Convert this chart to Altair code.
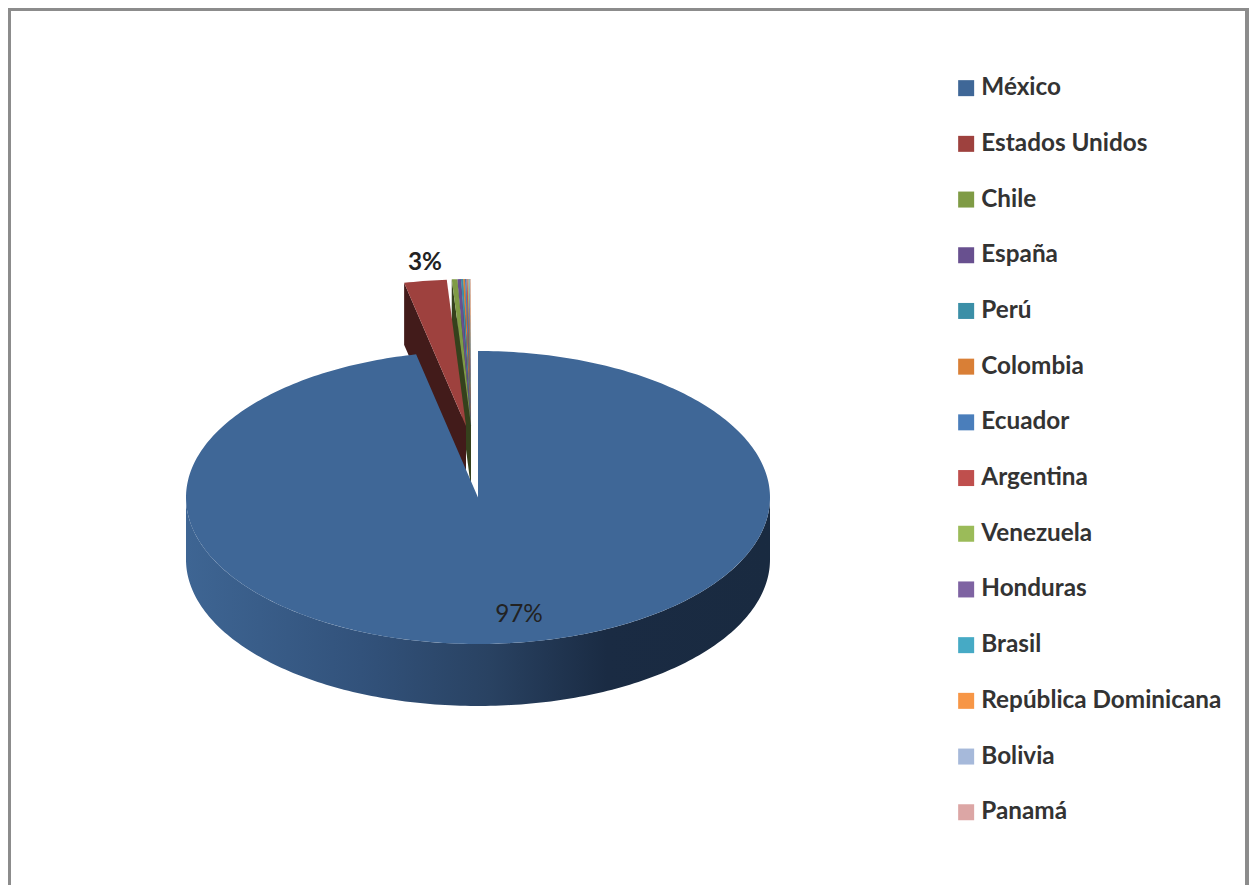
import math
import altair as alt

paises = ["México", "Estados Unidos", "Chile", "España", "Perú", "Colombia", "Ecuador",
          "Argentina", "Venezuela", "Honduras", "Brasil", "República Dominicana", "Bolivia", "Panamá"]
porcentajes = [96.6, 2.35, 0.3, 0.2, 0.12, 0.1, 0.08, 0.06, 0.05, 0.04, 0.03, 0.03, 0.02, 0.02]
colores = ["#3f6797", "#9e413e", "#7f9b45", "#68508f", "#3b8fa7", "#d97f36", "#4a7ebb",
           "#bf4f4d", "#9bbb59", "#7e63a2", "#46aac5", "#f79646", "#a6b9da", "#dca6a5"]

W, H = 1241, 877
CX, CY, RX = 478 - 8, 497.5 - 8, 292.0
SQUASH = 146.5 / 292
DEPTH = 62 / RX
OFF_US = (-12 / RX, 71.5 / RX)
OFF_REST = (-7 / RX, 72 / RX)


def pt(a, ox=0.0, oy=0.0, drop=0.0):
    r = math.radians(a)
    return [math.sin(r) + ox, math.cos(r) * SQUASH + oy - drop]


def feature(ring, **props):
    return {"type": "Feature", "properties": props,
            "geometry": {"type": "Polygon", "coordinates": [ring + [ring[0]]]}}


def shade(hex_color, k=0.42):
    v = [int(hex_color[i:i + 2], 16) for i in (1, 3, 5)]
    return "#%02x%02x%02x" % tuple(int(c * k) for c in v)


def arc(a0, a1, **kw):
    n = max(2, int(abs(a1 - a0)) + 2)
    return [pt(a0 + (a1 - a0) * i / (n - 1), **kw) for i in range(n)]


edges = [0.0]
for p in porcentajes:
    edges.append(edges[-1] + p * 3.6 * 100 / sum(porcentajes))

tops, walls = [], []
for i, pais in enumerate(paises):
    a0, a1 = edges[i], edges[i + 1]
    if i == 0:
        tops.append(feature([[0.0, 0.0]] + arc(a0, a1), pais=pais))
        continue
    ox, oy = OFF_US if i == 1 else OFF_REST
    tops.append(feature([[ox, oy]] + arc(a0, a1, ox=ox, oy=oy), pais=pais))
    outer, outer_low = pt(a0, ox, oy), pt(a0, ox, oy, DEPTH)
    walls.append(feature([[ox, oy], outer, outer_low, [ox, oy - DEPTH]],
                         shade=shade(colores[i])))

front = feature(arc(90, 270) + arc(270, 90, drop=DEPTH), shade="x")

proj = dict(type="identity", reflectY=True, scale=RX, translate=[CX, CY])

color_enc = alt.Color(
    "properties.pais:N",
    scale=alt.Scale(domain=paises, range=colores),
    sort=paises,
    legend=alt.Legend(
        title=None, orient="none", legendX=946, legendY=68, columns=1,
        symbolType="square", symbolSize=256, symbolStrokeWidth=0,
        labelFont="Lato", labelFontSize=24.3, labelFontWeight="bold", labelColor="#333333",
        labelOffset=3, labelLimit=320, rowPadding=30.7,
    ),
)

wall_layer = alt.Chart(alt.Data(values=walls[::-1])).mark_geoshape(strokeWidth=0).encode(
    fill=alt.Fill("properties.shade:N", scale=None, legend=None)
).project(**proj)

rest_top_layer = alt.Chart(alt.Data(values=tops[1:][::-1])).mark_geoshape(strokeWidth=0).encode(
    color=color_enc
).project(**proj)

gradient = alt.Gradient(
    gradient="linear", x1=0, x2=1, y1=0, y2=0,
    stops=[
        alt.GradientStop(offset=0.0, color="#3e6593"),
        alt.GradientStop(offset=0.3, color="#32527b"),
        alt.GradientStop(offset=0.52, color="#294262"),
        alt.GradientStop(offset=0.72, color="#1a2b43"),
        alt.GradientStop(offset=1.0, color="#192a40"),
    ],
)
front_layer = alt.Chart(alt.Data(values=[front])).mark_geoshape(fill=gradient, strokeWidth=0).project(**proj)

mex_layer = alt.Chart(alt.Data(values=tops[:1])).mark_geoshape(strokeWidth=0).encode(
    color=color_enc
).project(**proj)

etiquetas = [
    {"t": f"{round(porcentajes[0])}%", "px": 519 - 8, "py": 615 - 8, "w": "normal"},
    {"t": f"{round(sum(porcentajes[1:]))}%", "px": 425 - 8, "py": 263 - 8, "w": "bold"},
]
label_layers = [
    alt.Chart(alt.Data(values=[e])).mark_text(
        font="Lato", fontSize=24.3, fontWeight=e["w"], color="#222222", align="center", baseline="middle"
    ).encode(text="t:N", x=alt.value(e["px"]), y=alt.value(e["py"]))
    for e in etiquetas
]

one = alt.Data(values=[{"a": 1}])
FRAME = "#8c8c8c"
frame = [
    alt.Chart(one).mark_rule(color=FRAME, strokeWidth=3).encode(x=alt.value(1.5), y=alt.value(0), y2=alt.value(H)),
    alt.Chart(one).mark_rule(color=FRAME, strokeWidth=3).encode(x=alt.value(0), x2=alt.value(W), y=alt.value(1.5)),
    alt.Chart(one).mark_rule(color=FRAME, strokeWidth=4).encode(x=alt.value(W - 2), y=alt.value(0), y2=alt.value(H)),
]

chart = alt.layer(
    wall_layer, rest_top_layer, front_layer, mex_layer, *label_layers, *frame
).resolve_scale(fill="independent").properties(
    width=W, height=H, padding=0, background="white",
    autosize=alt.AutoSizeParams(type="none", contains="padding"),
).configure_view(stroke=None)

chart.save("out.html", embed_options={"renderer": "svg", "actions": False})
